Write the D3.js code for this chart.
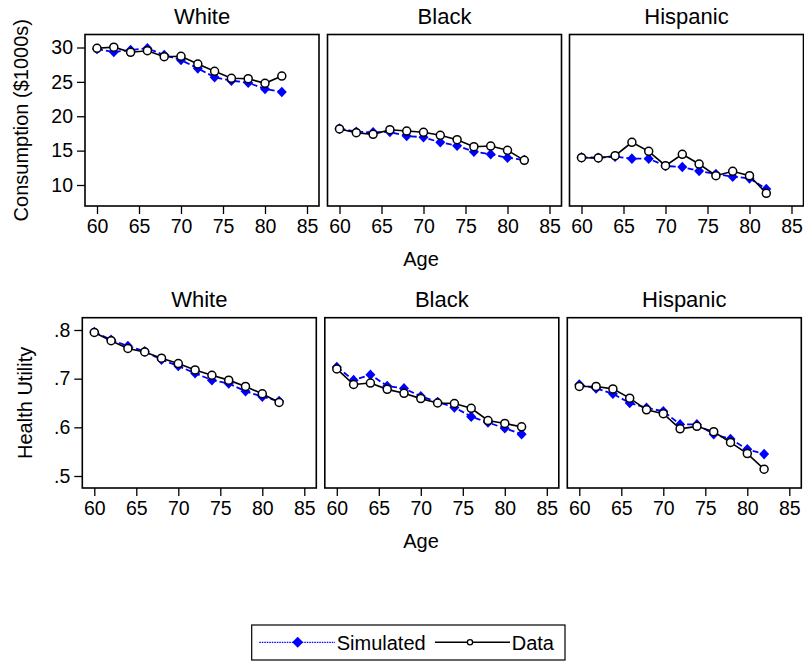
<!DOCTYPE html>
<html>
<head>
<meta charset="utf-8">
<script src="https://cdn.jsdelivr.net/npm/d3@7"></script>
<style>
  body { margin: 0; background: #fff; }
  text { font-family: "Liberation Sans", Arial, sans-serif; fill: #000; }
</style>
</head>
<body>
<div id="chart"></div>
<script>
// datos
const ages = [60, 62, 64, 66, 68, 70, 72, 74, 76, 78, 80, 82]
const groups = ["White", "Black", "Hispanic"]

// consumo ($1000s)
const consSimWhite    = [29.78, 29.35, 29.64, 29.88, 28.91, 28.18, 26.97, 25.67, 25.17, 24.88, 23.96, 23.53]
const consDataWhite   = [29.88, 30.05, 29.30, 29.53, 28.66, 28.72, 27.60, 26.54, 25.52, 25.46, 24.79, 25.85]
const consSimBlack    = [18.20, 17.75, 17.67, 17.71, 17.13, 16.94, 16.21, 15.72, 14.84, 14.47, 13.97, 13.64]
const consDataBlack   = [18.15, 17.61, 17.37, 18.04, 17.85, 17.67, 17.23, 16.59, 15.57, 15.67, 15.04, 13.59]
const consSimHisp     = [14.03, 13.97, 14.12, 13.83, 13.83, 12.76, 12.62, 12.04, 11.60, 11.21, 10.97, 9.42]
const consDataHisp    = [13.97, 13.93, 14.26, 16.21, 14.90, 12.81, 14.47, 13.05, 11.35, 11.99, 11.35, 8.79]

// utilidad de salud
const utilSimWhite    = [.796, .780, .767, .756, .739, .726, .711, .697, .690, .674, .663, .654]
const utilDataWhite   = [.795, .778, .762, .755, .742, .731, .718, .707, .697, .684, .669, .651]
const utilSimBlack    = [.724, .697, .708, .685, .680, .664, .652, .641, .622, .610, .598, .586]
const utilDataBlack   = [.720, .688, .691, .678, .670, .659, .650, .649, .639, .614, .608, .601]
const utilSimHisp     = [.688, .680, .669, .650, .640, .633, .606, .606, .586, .576, .555, .545]
const utilDataHisp    = [.684, .684, .679, .660, .636, .628, .597, .602, .591, .569, .546, .514]

const xTicks = [60, 65, 70, 75, 80, 85]
const consTicks = [10, 15, 20, 25, 30]
const utilTicks = [.5, .6, .7, .8]
const utilTickLabels = [".5", ".6", ".7", ".8"]

// constantes
const width = 804
const height = 662
const panelW = 234

const rows = [
  {
    top: 34.5, bottom: 206, lefts: [85, 327.5, 569.5],
    y: d3.scaleLinear().domain([10, 30]).range([185, 47.5]),
    ticks: consTicks, tickLabels: consTicks.map(String),
    title: "Consumption ($1000s)", titleX: 28,
    sim: [consSimWhite, consSimBlack, consSimHisp],
    obs: [consDataWhite, consDataBlack, consDataHisp]
  },
  {
    top: 317.7, bottom: 488, lefts: [82.3, 324.8, 567.3],
    y: d3.scaleLinear().domain([.5, .8]).range([476, 330]),
    ticks: utilTicks, tickLabels: utilTickLabels,
    title: "Health Utility", titleX: 31.5,
    sim: [utilSimWhite, utilSimBlack, utilSimHisp],
    obs: [utilDataWhite, utilDataBlack, utilDataHisp]
  }
]

const svg = d3.select("div#chart")
  .append("svg")
  .attr("width", width)
  .attr("height", height)

svg.append("rect").attr("width", width).attr("height", height).attr("fill", "#fff")

const diamond = (hw, hh) => `M0,${-hh}L${hw},0L0,${hh}L${-hw},0Z`

rows.forEach(row => {
  const y = row.y

  // título eje y
  svg.append("text")
    .attr("transform", `translate(${row.titleX},${(row.top + row.bottom) / 2}) rotate(-90)`)
    .attr("text-anchor", "middle")
    .style("font-size", "20px")
    .text(row.title)

  groups.forEach((g, i) => {
    const left = row.lefts[i]
    const x = d3.scaleLinear().domain([60, 85]).range([left + 12, left + 222])
    const pg = svg.append("g").attr("class", "panel")

    // título del panel
    pg.append("text")
      .attr("x", left + panelW / 2)
      .attr("y", row.top - 11)
      .attr("text-anchor", "middle")
      .style("font-size", "22px")
      .text(g)

    // marco
    pg.append("rect")
      .attr("x", left).attr("y", row.top)
      .attr("width", panelW).attr("height", row.bottom - row.top)
      .attr("fill", "none").attr("stroke", "#000").attr("stroke-width", 1.6)

    // eje x
    const xAxis = d3.axisBottom(x).tickValues(xTicks).tickSize(8).tickPadding(5)
    const xg = pg.append("g")
      .attr("transform", `translate(0,${row.bottom})`)
      .call(xAxis)
    xg.select(".domain").remove()
    xg.selectAll("line").attr("stroke", "#000").attr("stroke-width", 1.3)
    xg.selectAll("text").style("font-size", "19.5px").attr("fill", "#000")
      .attr("font-family", null)

    // eje y sólo en el primer panel
    if (i === 0) {
      const yAxis = d3.axisLeft(y).tickValues(row.ticks)
        .tickFormat((d, k) => row.tickLabels[k]).tickSize(8).tickPadding(4)
      const yg = pg.append("g")
        .attr("transform", `translate(${left},0)`)
        .call(yAxis)
      yg.select(".domain").remove()
      yg.selectAll("line").attr("stroke", "#000").attr("stroke-width", 1.3)
      yg.selectAll("text").style("font-size", "19.5px").attr("fill", "#000")
        .attr("font-family", null)
    }

    const sim = ages.map((a, k) => ({age: a, v: row.sim[i][k]}))
    const obs = ages.map((a, k) => ({age: a, v: row.obs[i][k]}))
    const line = d3.line().x(d => x(d.age)).y(d => y(d.v))

    // simulado
    pg.append("path").datum(sim)
      .attr("d", line).attr("fill", "none")
      .attr("stroke", "#0000ff").attr("stroke-width", 1.8)
      .attr("stroke-dasharray", "6,3")
    pg.selectAll("path.sim").data(sim).enter()
      .append("path").attr("class", "sim")
      .attr("d", diamond(5, 5.3))
      .attr("transform", d => `translate(${x(d.age)},${y(d.v)})`)
      .attr("fill", "#0000ff")

    // datos
    pg.append("path").datum(obs)
      .attr("d", line).attr("fill", "none")
      .attr("stroke", "#000").attr("stroke-width", 1.6)
    pg.selectAll("circle.obs").data(obs).enter()
      .append("circle").attr("class", "obs")
      .attr("cx", d => x(d.age)).attr("cy", d => y(d.v)).attr("r", 4)
      .attr("fill", "#fff").attr("stroke", "#000").attr("stroke-width", 1.5)
  })

  // título eje x
  svg.append("text")
    .attr("x", 421)
    .attr("y", row.bottom + 59.5)
    .attr("text-anchor", "middle")
    .style("font-size", "20px")
    .text("Age")
})

// leyenda
const legend = svg.append("g").attr("class", "legend")
legend.append("rect")
  .attr("x", 251.7).attr("y", 625).attr("width", 313.3).attr("height", 35)
  .attr("fill", "#fff").attr("stroke", "#000").attr("stroke-width", 1.2)
legend.append("line")
  .attr("x1", 259.3).attr("x2", 335).attr("y1", 642.3).attr("y2", 642.3)
  .attr("stroke", "#0000ff").attr("stroke-width", 1.3).attr("stroke-dasharray", "1.5,1")
legend.append("path")
  .attr("d", diamond(5.5, 5.5))
  .attr("transform", "translate(297.7,642.3)")
  .attr("fill", "#0000ff")
legend.append("text")
  .attr("x", 336.7).attr("y", 649.5)
  .style("font-size", "20px")
  .text("Simulated")
legend.append("line")
  .attr("x1", 435).attr("x2", 510).attr("y1", 642.3).attr("y2", 642.3)
  .attr("stroke", "#000").attr("stroke-width", 1.5)
legend.append("circle")
  .attr("cx", 470).attr("cy", 642.3).attr("r", 2.6)
  .attr("fill", "#fff").attr("stroke", "#000").attr("stroke-width", 1.3)
legend.append("text")
  .attr("x", 511.7).attr("y", 649.5)
  .style("font-size", "20px")
  .text("Data")
</script>
</body>
</html>
